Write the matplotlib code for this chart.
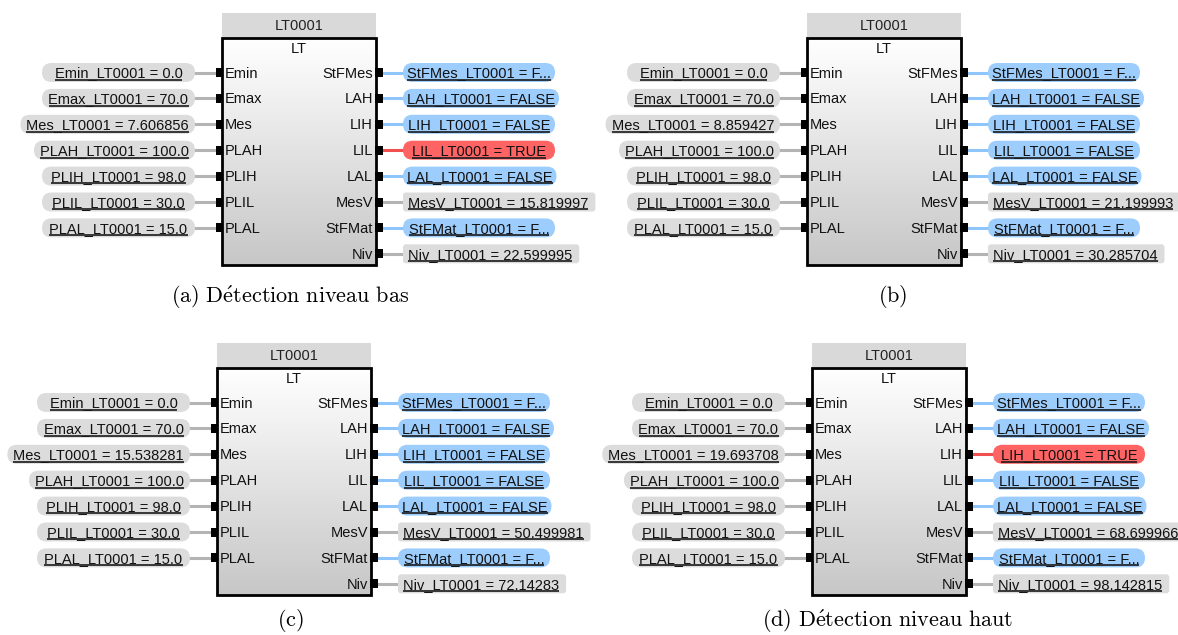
import numpy as np
import matplotlib
matplotlib.use("Agg")
from matplotlib import pyplot as plt
from matplotlib.patches import FancyBboxPatch, Rectangle

# values shown in the four states of the LT0001 block
tag = "LT0001"
input_names = ["Emin", "Emax", "Mes", "PLAH", "PLIH", "PLIL", "PLAL"]
param_values = {"Emin": "0.0", "Emax": "70.0", "PLAH": "100.0",
                "PLIH": "98.0", "PLIL": "30.0", "PLAL": "15.0"}
output_names = ["StFMes", "LAH", "LIH", "LIL", "LAL", "MesV", "StFMat", "Niv"]
mes_values = ["7.606856", "8.859427", "15.538281", "19.693708"]
mesv_values = ["15.819997", "21.199993", "50.499981", "68.699966"]
niv_values = ["22.599995", "30.285704", "72.14283", "98.142815"]
lil_state = [True, False, False, False]
lih_state = [False, False, False, True]
captions = [r"$\mathrm{(a)\ D\acute{e}tection\ niveau\ bas}$", r"$\mathrm{(b)}$",
            r"$\mathrm{(c)}$", r"$\mathrm{(d)\ D\acute{e}tection\ niveau\ haut}$"]

# layout (pixels)
block_pos = [(222, 13), (807, 13), (217, 343), (812, 343)]
caption_pos = [(290, 297), (893, 297), (290, 621), (888, 621)]
BW = 154
FS = 10.5
FONT = "Liberation Sans"
GRAY = "#dcdcdc"
BLUE = "#9dcdfd"
RED = "#ff6464"
LINE_GRAY = "#b4b4b4"
LINE_BLUE = "#8ec6fb"
LINE_RED = "#f25050"

plt.rcParams["mathtext.fontset"] = "cm"
W, H = 1178, 635
fig = plt.figure(figsize=(W / 100, H / 100), dpi=100)
ax = fig.add_axes([0, 0, 1, 1])
ax.axis("off")
renderer = fig.canvas.get_renderer()


def put_text(x, y, s, ha="center"):
    return ax.text(x, y + 5.0, s, ha=ha, va="baseline", fontsize=FS,
                   color="#111111", family=FONT, zorder=6)


def width_of(t):
    return t.get_window_extent(renderer).width


def underline(t, y):
    bb = t.get_window_extent(renderer)
    ax.plot([bb.x0, bb.x1], [y + 7.3, y + 7.3], color="#1a1a1a", lw=1.2,
            solid_capstyle="butt", zorder=6)


def pill(x, y, w, color, r=9.5):
    ax.add_patch(FancyBboxPatch((x, y - 9.5), w, 19,
                                boxstyle=f"round,pad=0,rounding_size={r}",
                                fc=color, ec="none", zorder=3))


ax.set_xlim(0, W)
ax.set_ylim(H, 0)

for k, (bx, top) in enumerate(block_pos):
    # header and block body
    ax.add_patch(Rectangle((bx, top), BW, 25, fc="#d9d9d9", ec="none", zorder=2))
    ax.text(bx + BW / 2, top + 12.5, tag, ha="center", va="center",
            fontsize=FS, family=FONT, color="#222222", zorder=6)
    body_top, body_bot = top + 25, top + 252
    grad = np.linspace(1.0, 0.78, 100)[:, None, None] * np.ones((100, 1, 3))
    ax.imshow(grad, extent=(bx, bx + BW, body_bot, body_top), origin="upper",
              aspect="auto", zorder=2)
    ax.add_patch(Rectangle((bx, body_top), BW, body_bot - body_top, fc="none",
                           ec="black", lw=2, zorder=4))
    ax.text(bx + BW / 2, top + 36, "LT", ha="center", va="center",
            fontsize=FS, family=FONT, color="#111111", zorder=6)

    rows = [top + 59.5 + 25.9 * i for i in range(8)]

    # inputs
    for i, name in enumerate(input_names):
        y = rows[i]
        val = mes_values[k] if name == "Mes" else param_values[name]
        put_text(bx + 3, y, name, ha="left")
        ax.add_patch(Rectangle((bx - 6, y - 4.5), 7, 9, fc="black", ec="none", zorder=5))
        right = bx - 27
        ax.plot([right, bx - 6], [y, y], color=LINE_GRAY, lw=2.2, zorder=1)
        t = put_text(0, y, f"{name}_{tag} = {val}")
        tw = width_of(t)
        pw = max(153, tw + 12)
        t.set_x(right - pw / 2)
        pill(right - pw, y, pw, GRAY)
        underline(t, y)

    # outputs
    for i, name in enumerate(output_names):
        y = rows[i]
        put_text(bx + BW - 3, y, name, ha="right")
        ax.add_patch(Rectangle((bx + BW - 1, y - 4.5), 8, 9, fc="black", ec="none", zorder=5))
        left = bx + BW + 27
        if name in ("MesV", "Niv"):
            val = mesv_values[k] if name == "MesV" else niv_values[k]
            t = put_text(left + 5, y, f"{name}_{tag} = {val}", ha="left")
            tw = width_of(t)
            pill(left, y, tw + 12, GRAY, r=3)
            lc = LINE_GRAY
        else:
            if name == "LIL":
                on = lil_state[k]
            elif name == "LIH":
                on = lih_state[k]
            else:
                on = False
            if name in ("StFMes", "StFMat"):
                s = f"{name}_{tag} = F..."
            else:
                s = f"{name}_{tag} = {'TRUE' if on else 'FALSE'}"
            t = put_text(0, y, s)
            tw = width_of(t)
            pw = max(152, tw + 8)
            t.set_x(left + pw / 2)
            pill(left, y, pw, RED if on else BLUE)
            lc = LINE_RED if on else LINE_BLUE
        ax.plot([bx + BW + 7, left], [y, y], color=lc, lw=2.2, zorder=1)
        underline(t, y)

    cx, cy = caption_pos[k]
    ax.text(cx, cy, captions[k], ha="center", va="center", fontsize=16, color="black")

ax.set_xlim(0, W)
ax.set_ylim(H, 0)
fig.savefig("out.png", dpi=100, facecolor="white")
